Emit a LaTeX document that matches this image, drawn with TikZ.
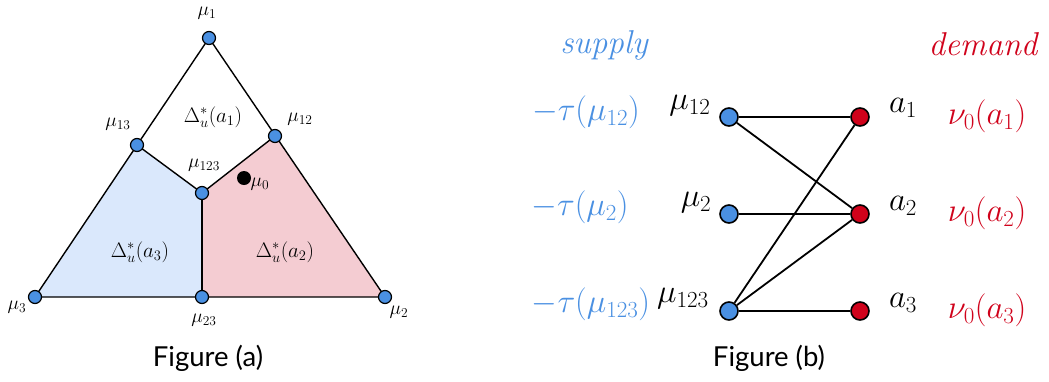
\RequirePackage{fix-cm}
\documentclass[tikz,border=0pt]{standalone}
\usepackage{fontspec}
\newfontfamily\capfont{Lato}
\DeclareMathSizes{33}{33}{23}{17}
\DeclareMathSizes{19.5}{19.5}{13.5}{10}
\DeclareMathSizes{21}{21}{14.5}{11}
\definecolor{nodeblue}{HTML}{4A90E2}
\definecolor{nodered}{HTML}{D0021B}
\definecolor{regblue}{HTML}{DAE8FC}
\definecolor{regpink}{HTML}{F4CCD2}
\tikzset{
  smallpt/.style={circle,draw=black,fill=nodeblue,line width=1.2pt,minimum size=13pt,inner sep=0pt},
  bigblue/.style={circle,draw=black,fill=nodeblue,line width=1.6pt,minimum size=18pt,inner sep=0pt},
  bigred/.style={circle,draw=black,fill=nodered,line width=1.6pt,minimum size=18pt,inner sep=0pt},
  smalllbl/.style={inner sep=0pt,font=\fontsize{19.5}{22}\selectfont},
  deltalbl/.style={inner sep=0pt,font=\fontsize{21}{24}\selectfont},
  biglbl/.style={inner sep=0pt,font=\fontsize{33}{38}\selectfont},
  caplbl/.style={inner sep=0pt,font=\capfont\fontsize{27.5}{32}\selectfont},
  edgeL/.style={line width=1.4pt},
  edgeR/.style={line width=1.8pt},
}
\begin{document}
\begin{tikzpicture}[x=1pt,y=-1pt]
\useasboundingbox (0,0) rectangle (1049,381);
% ---------- Figure (a) ----------
\coordinate (c1) at (209,38);
\coordinate (c13) at (137,145);
\coordinate (c12) at (275,136);
\coordinate (c123) at (202,193);
\coordinate (c3) at (35,297);
\coordinate (c23) at (202,297);
\coordinate (c2) at (385,297);
\fill[regblue] (c3) -- (c13) -- (c123) -- (c23) -- cycle;
\fill[regpink] (c23) -- (c123) -- (c12) -- (c2) -- cycle;
\draw[edgeL] (c1) -- (c3) -- (c2) -- cycle;
\draw[edgeL] (c13) -- (c123) -- (c12);
\draw[edgeL] (c123) -- (c23);
\node[smallpt] (m1) at (c1) {};
\node[smallpt] (m13) at (c13) {};
\node[smallpt] (m12) at (c12) {};
\node[smallpt] (m123) at (c123) {};
\node[smallpt] (m3) at (c3) {};
\node[smallpt] (m23) at (c23) {};
\node[smallpt] (m2) at (c2) {};
\node[circle,fill=black,minimum size=14pt,inner sep=0pt] (mu0) at (244,178) {};
\node[smalllbl] (l1) at (207,13) {$\mu_1$};
\node[smalllbl] (l13) at (118,124) {$\mu_{13}$};
\node[smalllbl] (l12) at (300,119) {$\mu_{12}$};
\node[smalllbl] (l123) at (204,165) {$\mu_{123}$};
\node[smalllbl] (l0) at (260,184) {$\mu_0$};
\node[smalllbl] (l3) at (17,307) {$\mu_3$};
\node[smalllbl] (l23) at (204,320) {$\mu_{23}$};
\node[smalllbl] (l2) at (399,312) {$\mu_2$};
\node[deltalbl] (d1) at (213,117) {$\Delta^*_u(a_1)$};
\node[deltalbl] (d3) at (140,252) {$\Delta^*_u(a_3)$};
\node[deltalbl] (d2) at (285,252) {$\Delta^*_u(a_2)$};
\node[caplbl] (capa) at (208,358) {Figure (a)};
% ---------- Figure (b) ----------
\node[bigblue] (r12) at (729,117) {};
\node[bigblue] (r2) at (729,214) {};
\node[bigblue] (r123) at (729,311) {};
\node[bigred] (ra1) at (860,117) {};
\node[bigred] (ra2) at (860,214) {};
\node[bigred] (ra3) at (860,311) {};
\draw[edgeR] (r12) -- (ra1);
\draw[edgeR] (r12) -- (ra2);
\draw[edgeR] (r2) -- (ra2);
\draw[edgeR] (r123) -- (ra1);
\draw[edgeR] (r123) -- (ra2);
\draw[edgeR] (r123) -- (ra3);
\node[biglbl] (t12) at (690,106) {$\mu_{12}$};
\node[biglbl] (t2) at (696,203) {$\mu_{2}$};
\node[biglbl] (t123) at (683,299) {$\mu_{123}$};
\node[biglbl] (ta1) at (903,108) {$a_1$};
\node[biglbl] (ta2) at (903,206) {$a_2$};
\node[biglbl] (ta3) at (903,303) {$a_3$};
\node[biglbl,text=nodeblue] (sup) at (604,45) {$\mathit{supply}$};
\node[biglbl,text=nodered] (dem) at (983,44) {$\mathit{demand}$};
\node[biglbl,text=nodeblue] (s12) at (586,112) {$-\tau(\mu_{12})$};
\node[biglbl,text=nodeblue] (s2) at (580,207) {$-\tau(\mu_{2})$};
\node[biglbl,text=nodeblue] (s123) at (591,304) {$-\tau(\mu_{123})$};
\node[biglbl,text=nodered] (n1) at (987,116) {$\nu_0(a_1)$};
\node[biglbl,text=nodered] (n2) at (987,213) {$\nu_0(a_2)$};
\node[biglbl,text=nodered] (n3) at (987,310) {$\nu_0(a_3)$};
\node[caplbl] (capb) at (769,358) {Figure (b)};
\end{tikzpicture}
\end{document}
